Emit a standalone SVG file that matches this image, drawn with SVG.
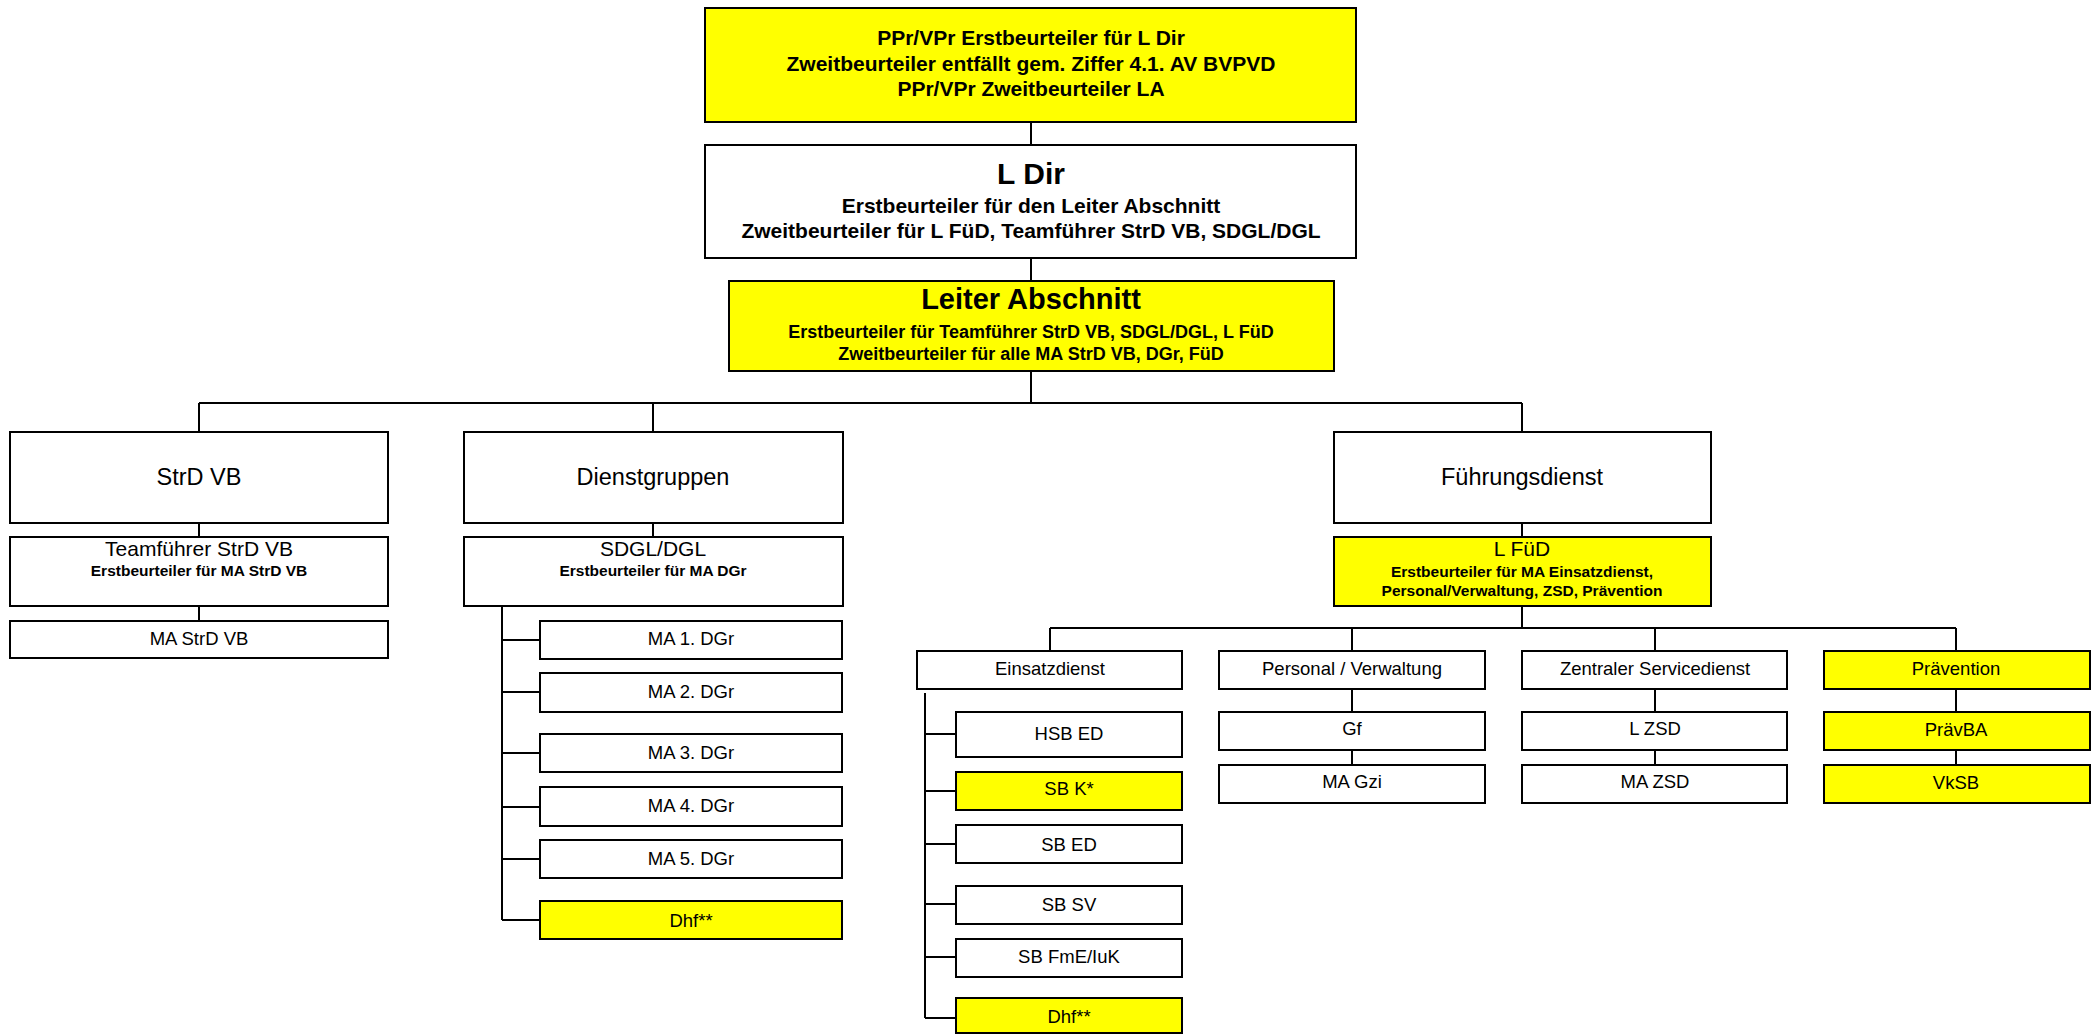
<svg xmlns="http://www.w3.org/2000/svg" width="2093" height="1034" viewBox="0 0 2093 1034">
<style>
.b{fill:#fff;stroke:#000;stroke-width:2}
.y{fill:#ffff00;stroke:#000;stroke-width:2}
.sh{fill:#000}
text{font-family:"Liberation Sans",Arial,sans-serif;text-anchor:middle;fill:#000}
.bd{font-weight:bold}
.t21{font-size:21px}
.t18{font-size:18px}
.t15{font-size:15.5px}
.l{font-size:18.5px}
.c{font-size:23.5px}
.con{stroke:#000;stroke-width:2;fill:none}
</style>
<g id="connectors" class="con">
<path d="M1031 122V145M1031 258V281M1031 371V403M199 403H1522M199 403V432M653 403V432M1522 403V432"/>
<path d="M199 523V537M199 606V621M653 523V537M1522 523V537"/>
<path d="M502 606V920M502 640H540M502 692H540M502 753H540M502 807H540M502 859H540M502 920H540"/>
<path d="M1522 606V628M1050 628H1956M1050 628V651M1352 628V651M1655 628V651M1956 628V651"/>
<path d="M1352 689V712M1352 750V765M1655 689V712M1655 750V765M1956 689V712M1956 750V765"/>
<path d="M925 693V1018M925 734H956M925 791H956M925 844H956M925 904H956M925 957H956M925 1018H956"/>
</g>
<g id="top"><rect x="706" y="9" width="651" height="114" class="sh"/><rect x="705" y="8" width="651" height="114" class="y"/>
<text class="bd t21" x="1031" y="45">PPr/VPr Erstbeurteiler für L Dir</text>
<text class="bd t21" x="1031" y="71">Zweitbeurteiler entfällt gem. Ziffer 4.1. AV BVPVD</text>
<text class="bd t21" x="1031" y="96">PPr/VPr Zweitbeurteiler LA</text></g>
<g id="ldir"><rect x="706" y="146" width="651" height="113" class="sh"/><rect x="705" y="145" width="651" height="113" class="b"/>
<text class="bd" style="font-size:30px" x="1031" y="184">L Dir</text>
<text class="bd t21" x="1031" y="213">Erstbeurteiler für den Leiter Abschnitt</text>
<text class="bd t21" x="1031" y="238">Zweitbeurteiler für L FüD, Teamführer StrD VB, SDGL/DGL</text></g>
<g id="leiter"><rect x="730" y="282" width="605" height="90" class="sh"/><rect x="729" y="281" width="605" height="90" class="y"/>
<text class="bd" style="font-size:29px" x="1031" y="309">Leiter Abschnitt</text>
<text class="bd t18" x="1031" y="338">Erstbeurteiler für Teamführer StrD VB, SDGL/DGL, L FüD</text>
<text class="bd t18" x="1031" y="360">Zweitbeurteiler für alle MA StrD VB, DGr, FüD</text></g>
<g id="strd"><rect x="11" y="433" width="378" height="91" class="sh"/><rect x="10" y="432" width="378" height="91" class="b"/>
<text class="c" x="199" y="485">StrD VB</text></g>
<g id="team"><rect x="11" y="538" width="378" height="69" class="sh"/><rect x="10" y="537" width="378" height="69" class="b"/>
<text class="t21" x="199" y="556">Teamführer StrD VB</text>
<text class="bd t15" x="199" y="576">Erstbeurteiler für MA StrD VB</text></g>
<g id="mastrd"><rect x="11" y="622" width="378" height="37" class="sh"/><rect x="10" y="621" width="378" height="37" class="b"/>
<text class="l" x="199" y="645">MA StrD VB</text></g>
<g id="dgr"><rect x="465" y="433" width="379" height="91" class="sh"/><rect x="464" y="432" width="379" height="91" class="b"/>
<text class="c" x="653" y="485">Dienstgruppen</text></g>
<g id="sdgl"><rect x="465" y="538" width="379" height="69" class="sh"/><rect x="464" y="537" width="379" height="69" class="b"/>
<text class="t21" x="653" y="556">SDGL/DGL</text>
<text class="bd t15" x="653" y="576">Erstbeurteiler für MA DGr</text></g>
<g id="ma1"><rect x="541" y="622" width="302" height="38" class="sh"/><rect x="540" y="621" width="302" height="38" class="b"/><text class="l" x="691" y="645">MA 1. DGr</text></g>
<g id="ma2"><rect x="541" y="674" width="302" height="39" class="sh"/><rect x="540" y="673" width="302" height="39" class="b"/><text class="l" x="691" y="698">MA 2. DGr</text></g>
<g id="ma3"><rect x="541" y="735" width="302" height="38" class="sh"/><rect x="540" y="734" width="302" height="38" class="b"/><text class="l" x="691" y="759">MA 3. DGr</text></g>
<g id="ma4"><rect x="541" y="788" width="302" height="39" class="sh"/><rect x="540" y="787" width="302" height="39" class="b"/><text class="l" x="691" y="812">MA 4. DGr</text></g>
<g id="ma5"><rect x="541" y="841" width="302" height="38" class="sh"/><rect x="540" y="840" width="302" height="38" class="b"/><text class="l" x="691" y="865">MA 5. DGr</text></g>
<g id="dhf1"><rect x="541" y="902" width="302" height="38" class="sh"/><rect x="540" y="901" width="302" height="38" class="y"/><text class="l" x="691" y="927">Dhf**</text></g>
<g id="fued"><rect x="1335" y="433" width="377" height="91" class="sh"/><rect x="1334" y="432" width="377" height="91" class="b"/>
<text class="c" x="1522" y="485">Führungsdienst</text></g>
<g id="lfued"><rect x="1335" y="538" width="377" height="69" class="sh"/><rect x="1334" y="537" width="377" height="69" class="y"/>
<text class="t21" x="1522" y="556">L FüD</text>
<text class="bd t15" x="1522" y="577">Erstbeurteiler für MA Einsatzdienst,</text>
<text class="bd t15" x="1522" y="596">Personal/Verwaltung, ZSD, Prävention</text></g>
<g id="einsatz"><rect x="918" y="652" width="265" height="38" class="sh"/><rect x="917" y="651" width="265" height="38" class="b"/><text class="l" x="1050" y="675">Einsatzdienst</text></g>
<g id="personal"><rect x="1220" y="652" width="266" height="38" class="sh"/><rect x="1219" y="651" width="266" height="38" class="b"/><text class="l" x="1352" y="675">Personal / Verwaltung</text></g>
<g id="zsd"><rect x="1523" y="652" width="265" height="38" class="sh"/><rect x="1522" y="651" width="265" height="38" class="b"/><text class="l" x="1655" y="675">Zentraler Servicedienst</text></g>
<g id="praev"><rect x="1825" y="652" width="266" height="38" class="sh"/><rect x="1824" y="651" width="266" height="38" class="y"/><text class="l" x="1956" y="675">Prävention</text></g>
<g id="gf"><rect x="1220" y="713" width="266" height="38" class="sh"/><rect x="1219" y="712" width="266" height="38" class="b"/><text class="l" x="1352" y="735">Gf</text></g>
<g id="lzsd"><rect x="1523" y="713" width="265" height="38" class="sh"/><rect x="1522" y="712" width="265" height="38" class="b"/><text class="l" x="1655" y="735">L ZSD</text></g>
<g id="praevba"><rect x="1825" y="713" width="266" height="38" class="sh"/><rect x="1824" y="712" width="266" height="38" class="y"/><text class="l" x="1956" y="736">PrävBA</text></g>
<g id="magzi"><rect x="1220" y="766" width="266" height="38" class="sh"/><rect x="1219" y="765" width="266" height="38" class="b"/><text class="l" x="1352" y="788">MA Gzi</text></g>
<g id="mazsd"><rect x="1523" y="766" width="265" height="38" class="sh"/><rect x="1522" y="765" width="265" height="38" class="b"/><text class="l" x="1655" y="788">MA ZSD</text></g>
<g id="vksb"><rect x="1825" y="766" width="266" height="38" class="sh"/><rect x="1824" y="765" width="266" height="38" class="y"/><text class="l" x="1956" y="789">VkSB</text></g>
<g id="hsb"><rect x="957" y="713" width="226" height="45" class="sh"/><rect x="956" y="712" width="226" height="45" class="b"/><text class="l" x="1069" y="740">HSB ED</text></g>
<g id="sbk"><rect x="957" y="773" width="226" height="38" class="sh"/><rect x="956" y="772" width="226" height="38" class="y"/><text class="l" x="1069" y="795">SB K*</text></g>
<g id="sbed"><rect x="957" y="826" width="226" height="38" class="sh"/><rect x="956" y="825" width="226" height="38" class="b"/><text class="l" x="1069" y="851">SB ED</text></g>
<g id="sbsv"><rect x="957" y="887" width="226" height="38" class="sh"/><rect x="956" y="886" width="226" height="38" class="b"/><text class="l" x="1069" y="911">SB SV</text></g>
<g id="sbfme"><rect x="957" y="940" width="226" height="38" class="sh"/><rect x="956" y="939" width="226" height="38" class="b"/><text class="l" x="1069" y="963">SB FmE/IuK</text></g>
<g id="dhf2"><rect x="957" y="999" width="226" height="35" class="sh"/><rect x="956" y="998" width="226" height="35" class="y"/><text class="l" x="1069" y="1023">Dhf**</text></g>
</svg>
